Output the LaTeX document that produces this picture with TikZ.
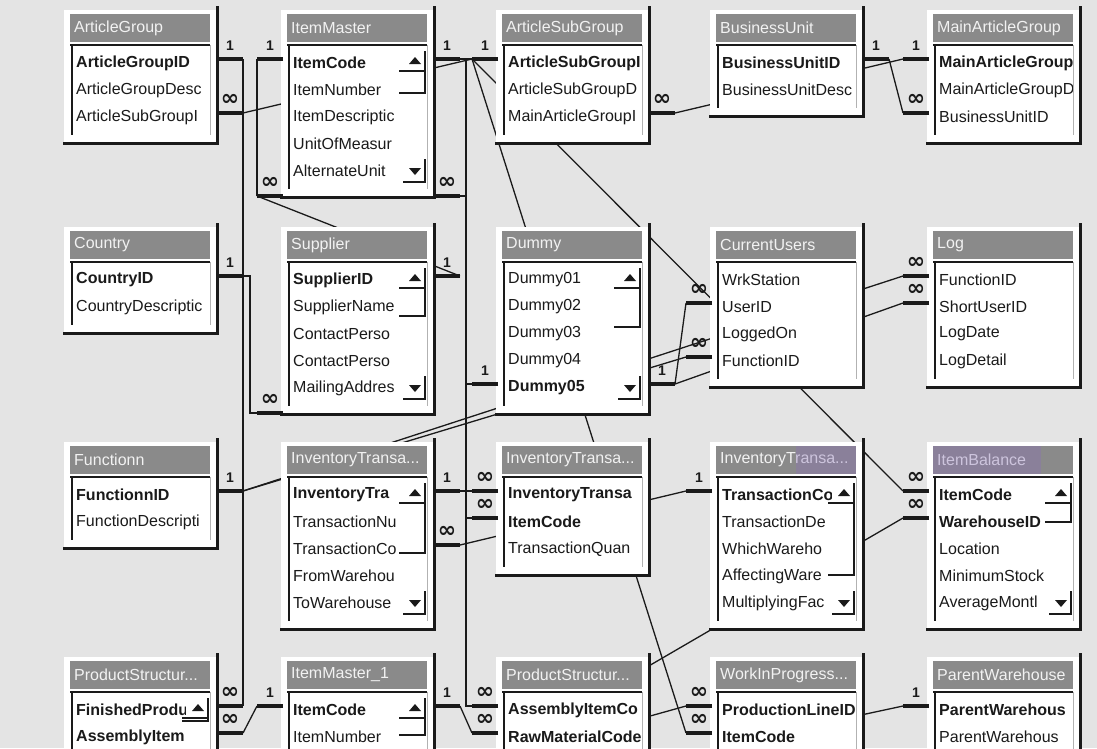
\documentclass[tikz,border=0pt]{standalone}
\usepackage{fontspec}
\setmainfont{Liberation Sans}
\newfontfamily\dejavu{DejaVu Sans}
\usetikzlibrary{calc}
\definecolor{cbg}{HTML}{E4E4E4}
\definecolor{ctitle}{HTML}{8A8A8A}
\definecolor{ctitletext}{HTML}{F2F2F2}
\definecolor{cink}{HTML}{1A1A1A}
\definecolor{cmauve}{HTML}{8A70B8}
\pgfdeclarelayer{canvas}
\pgfdeclarelayer{lines}
\pgfsetlayers{canvas,lines,main}
\newcommand\fieldfont{\fontsize{16}{18}\selectfont}
\newcommand\cardone{{\fontsize{14}{14}\selectfont\bfseries 1}}
\newcommand\cardmany{{\dejavu\fontsize{22}{22}\selectfont\bfseries ∞}}
\tikzset{
  every picture/.style={x=1pt, y=-1pt},
  field/.style={anchor=west, inner sep=0pt, font=\fieldfont, text=cink},
  keyfield/.style={font=\fieldfont\bfseries},
  plainfield/.style={},
  tabtitle/.style={anchor=west, inner sep=0pt, font=\fieldfont, text=ctitletext},
  winframe/.style={draw=cink, line width=3pt},
  listline/.style={draw=cink, line width=1.5pt},
  sbline/.style={draw=cink, line width=1.8pt},
  stub/.style={draw=cink, line width=4pt},
  card/.style={inner sep=0pt, yshift=13pt, text=cink},
  rel/.style={draw=cink, line width=1.3pt},
}
% table window: id, left, top, rows, title, fields
\newcommand\dbtable[6]{%
  \pgfmathsetmacro\tabL{#2}%
  \pgfmathsetmacro\tabT{#3}%
  \pgfmathsetmacro\tabB{#3+75+27*(#4-1)}%
  \fill[white] (\tabL-6,\tabT-4) rectangle (\tabL+147,\tabB);
  \fill[ctitle] (\tabL,\tabT) rectangle (\tabL+140,\tabT+28);
  \node[tabtitle] (#1-t) at (\tabL+4,\tabT+14) {#5};
  \draw[listline] (\tabL,\tabT+31) -- (\tabL+140,\tabT+31);
  \draw[listline] (\tabL+2,\tabT+31) -- (\tabL+2,\tabB-8);
  \draw[black!30, line width=1pt] (\tabL+140,\tabT+31) -- (\tabL+140,\tabB-8);
  \begin{scope}
    \clip (\tabL+4,\tabT+33) rectangle (\tabL+139,\tabB-4);
    \foreach \f/\s [count=\k] in {#6}
      \node[field,\s] (#1-\k) at (\tabL+6,\tabT+22+27*\k) {\f};
  \end{scope}
  \draw[winframe] (\tabL+147,\tabT-8) -- (\tabL+147,\tabB) -- (\tabL-7,\tabB);
  \coordinate (#1-l) at (\tabL-4,\tabT);
  \coordinate (#1-r) at (\tabL+147,\tabT);
  \coordinate (#1-b) at (\tabL,\tabB+3);
}
% scroll bar of the last table: thumb end, down arrow (offsets from top)
\newcommand\sbar[2]{%
  \fill[white] (\tabL+116,\tabT+33) rectangle (\tabL+139,\tabB-4);
  \fill[cink] (\tabL+122,\tabT+50) -- (\tabL+134,\tabT+50) -- (\tabL+128,\tabT+43) -- cycle;
  \draw[sbline] (\tabL+112,\tabT+57) -- (\tabL+138,\tabT+57);
  \draw[sbline] (\tabL+138,\tabT+37) -- (\tabL+138,\tabT+#1) -- (\tabL+112,\tabT+#1);
  \fill[cink] (\tabL+122,\tabT+#2-3) -- (\tabL+134,\tabT+#2-3) -- (\tabL+128,\tabT+#2+4) -- cycle;
  \draw[sbline] (\tabL+116,\tabT+#2+11) -- (\tabL+138,\tabT+#2+11) -- (\tabL+138,\tabT+#2-12);
}
\newcommand\stubR[4]{\draw[stub] ($(#1-r |- #2)+(0,-4)$) -- node[card] (#4-c) {#3} ++(26,0) coordinate (#4);}
\newcommand\stubL[4]{\draw[stub] ($(#1-l |- #2)+(0,-4)$) -- node[card] (#4-c) {#3} ++(-26,0) coordinate (#4);}

\begin{document}
\begin{tikzpicture}
  \useasboundingbox (0,0) rectangle (1097,748);
  \begin{pgfonlayer}{canvas}
    \fill[cbg] (0,0) rectangle (1097,748);
  \end{pgfonlayer}
  % row 1
  \dbtable{ag}{70}{14}{3}{ArticleGroup}{ArticleGroupID/keyfield, ArticleGroupDesc/plainfield, ArticleSubGroupI/plainfield}
  \dbtable{im}{287}{14}{5}{ItemMaster}{ItemCode/keyfield, ItemNumber/plainfield, ItemDescriptic/plainfield, UnitOfMeasur/plainfield, AlternateUnit/plainfield}
  \sbar{79}{157}
  \dbtable{as}{502}{14}{3}{ArticleSubGroup}{ArticleSubGroupI/keyfield, ArticleSubGroupD/plainfield, MainArticleGroupI/plainfield}
  \dbtable{bu}{716}{14}{2}{BusinessUnit}{BusinessUnitID/keyfield, BusinessUnitDesc/plainfield}
  \dbtable{ma}{933}{14}{3}{MainArticleGroup}{MainArticleGroupI/keyfield, MainArticleGroupD/plainfield, BusinessUnitID/plainfield}
  % row 2
  \dbtable{co}{70}{231}{2}{Country}{CountryID/keyfield, CountryDescriptic/plainfield}
  \dbtable{su}{287}{231}{5}{Supplier}{SupplierID/keyfield, SupplierName/plainfield, ContactPerso/plainfield, ContactPerso/plainfield, MailingAddres/plainfield}
  \sbar{85}{157}
  \dbtable{dm}{502}{231}{5}{Dummy}{Dummy01/plainfield, Dummy02/plainfield, Dummy03/plainfield, Dummy04/plainfield, Dummy05/keyfield}
  \sbar{96}{157}
  \dbtable{cu}{716}{231}{4}{CurrentUsers}{WrkStation/plainfield, UserID/plainfield, LoggedOn/plainfield, FunctionID/plainfield}
  \dbtable{lg}{933}{231}{4}{Log}{FunctionID/plainfield, ShortUserID/plainfield, LogDate/plainfield, LogDetail/plainfield}
  % row 3
  \dbtable{fu}{70}{446}{2}{Functionn}{FunctionnID/keyfield, FunctionDescripti/plainfield}
  \dbtable{ta}{287}{446}{5}{InventoryTransa...}{InventoryTra/keyfield, TransactionNu/plainfield, TransactionCo/plainfield, FromWarehou/plainfield, ToWarehouse/plainfield}
  \sbar{107}{157}
  \dbtable{tb}{502}{446}{3}{InventoryTransa...}{InventoryTransa/keyfield, ItemCode/keyfield, TransactionQuan/plainfield}
  \dbtable{tc}{716}{446}{5}{InventoryTransa...}{TransactionCo/keyfield, TransactionDe/plainfield, WhichWareho/plainfield, AffectingWare/plainfield, MultiplyingFac/plainfield}
  \sbar{129}{157}
  \fill[cmauve, opacity=.35] (796,446) rectangle (856,474);
  \dbtable{ib}{933}{446}{5}{ItemBalance}{ItemCode/keyfield, WarehouseID/keyfield, Location/plainfield, MinimumStock/plainfield, AverageMontl/plainfield}
  \sbar{76}{157}
  \fill[cmauve, opacity=.35] (933,446) rectangle (1041,474);
  % row 4
  \dbtable{pa}{70}{661}{3}{ProductStructur...}{FinishedProdu/keyfield, AssemblyItem/keyfield}
  \sbar{60}{300}
  \dbtable{io}{287}{661}{3}{ItemMaster\_1}{ItemCode/keyfield, ItemNumber/plainfield}
  \sbar{74}{300}
  \dbtable{pc}{502}{661}{3}{ProductStructur...}{AssemblyItemCo/keyfield, RawMaterialCode/keyfield}
  \dbtable{wp}{716}{661}{3}{WorkInProgress...}{ProductionLineID/keyfield, ItemCode/keyfield}
  \dbtable{pw}{933}{661}{3}{ParentWarehouse}{ParentWarehous/keyfield, ParentWarehous/plainfield}

  % relationship ends
  \stubR{ag}{ag-1}{\cardone}{agA}
  \stubR{ag}{ag-3}{\cardmany}{agC}
  \stubL{im}{im-1}{\cardone}{imA}
  \stubL{im}{im-b}{\cardmany}{imB}
  \stubR{im}{im-1}{\cardone}{imC}
  \stubR{im}{im-b}{\cardmany}{imD}
  \stubL{as}{as-1}{\cardone}{asA}
  \stubR{as}{as-3}{\cardmany}{asB}
  \stubR{bu}{bu-1}{\cardone}{buA}
  \stubL{ma}{ma-1}{\cardone}{maA}
  \stubL{ma}{ma-3}{\cardmany}{maB}
  \stubR{co}{co-1}{\cardone}{coA}
  \stubL{su}{su-b}{\cardmany}{suB}
  \stubR{su}{su-1}{\cardone}{suA}
  \stubL{dm}{dm-5}{\cardone}{dmA}
  \stubR{dm}{dm-5}{\cardone}{dmB}
  \stubL{cu}{cu-2}{\cardmany}{cuA}
  \stubL{cu}{cu-4}{\cardmany}{cuB}
  \stubL{lg}{lg-1}{\cardmany}{lgA}
  \stubL{lg}{lg-2}{\cardmany}{lgB}
  \stubR{fu}{fu-1}{\cardone}{fuA}
  \stubR{ta}{ta-1}{\cardone}{taA}
  \stubR{ta}{ta-3}{\cardmany}{taB}
  \stubL{tb}{tb-1}{\cardmany}{tbA}
  \stubL{tb}{tb-2}{\cardmany}{tbB}
  \stubL{tc}{tc-1}{\cardone}{tcA}
  \stubL{ib}{ib-1}{\cardmany}{ibA}
  \stubL{ib}{ib-2}{\cardmany}{ibB}
  \stubR{pa}{pa-1}{\cardmany}{paA}
  \stubR{pa}{pa-2}{\cardmany}{paB}
  \stubL{io}{io-1}{\cardone}{ioA}
  \stubR{io}{io-1}{\cardone}{ioB}
  \stubL{pc}{pc-1}{\cardmany}{pcA}
  \stubL{pc}{pc-2}{\cardmany}{pcB}
  \stubL{wp}{wp-1}{\cardmany}{wpA}
  \stubL{wp}{wp-2}{\cardmany}{wpB}
  \stubL{pw}{pw-1}{\cardone}{pwA}
  \coordinate (jx) at (466,0);

  % join lines, behind the windows
  \begin{pgfonlayer}{lines}
    \draw[rel] (agA) -- (paA);
    \draw[rel] (imA) -- (imB);
    \draw[rel] (agC) -- (asA);
    \draw[rel] (imC) -- (asA);
    \draw[rel] (suA) -- (imB);
    \draw[rel] (coA) -- ++(7,0) |- (suB);
    \draw[rel] (fuA) -- (lgA);
    \draw[rel] (fuA) -- (cuB);
    \draw[rel] (ioA) -- (paB);
    \draw[rel] (asA) -- (ibA);
    \draw[rel] (asA) -- (wpB);
    \draw[rel] (asA) -| (jx |- pcA) -- (pcA);
    \draw[rel] (imD) -- (imD -| jx);
    \draw[rel] (dmA) -- (dmA -| jx);
    \draw[rel] (tbB) -- (tbB -| jx);
    \draw[rel] (taA) -- (tbA);
    \draw[rel] (taB) -- (tcA);
    \draw[rel] (ioB) -- (pcB);
    \draw[rel] (asB) -- (maA);
    \draw[rel] (buA) -- (maB);
    \draw[rel] (dmB) -- (cuA);
    \draw[rel] (dmB) -- (lgB);
    \draw[rel] (ibB) -- (pc-1.center);
    \draw[rel] (pc-2.center) -- (wpA);
    \draw[rel] (pwA) -- (wp-2.center);
  \end{pgfonlayer}
\end{tikzpicture}
\end{document}
